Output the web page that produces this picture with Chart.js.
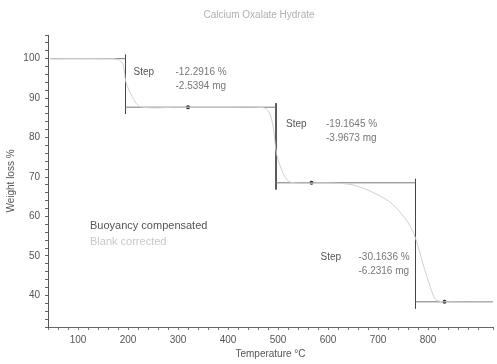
<!DOCTYPE html>
<html>
<head>
<meta charset="utf-8">
<script src="https://cdn.jsdelivr.net/npm/chart.js@4.4.1/dist/chart.umd.min.js"></script>
<style>
  html, body { margin: 0; padding: 0; background: #fff; }
  #wrap { width: 497px; height: 364px; }
</style>
</head>
<body>
<div id="wrap"><canvas id="tga"></canvas></div>
<script>
// TGA curve, temperature (C) vs weight (%)
const temps = [45, 150, 180, 190, 196, 210, 225, 300, 400, 470, 482, 490, 497, 510, 525, 600, 650, 700, 730, 760, 775, 790, 805, 815, 830, 930];
const weights = [100, 100, 99.8, 98.5, 94, 90, 87.8, 87.7, 87.7, 87.6, 86.5, 83, 76, 71, 68.7, 68.5, 68.0, 65.5, 63, 58.5, 54.5, 48, 42, 39, 38.4, 38.3];

// evaluated steps
const stepTemps = [195, 496, 775];
const stepPercent = [-12.2916, -19.1645, -30.1636];
const stepMg = [-2.5394, -3.9673, -6.2316];
const dotTemps = [320, 567, 833];

const xLabels = [100, 200, 300, 400, 500, 600, 700, 800];
const yLabels = [40, 50, 60, 70, 80, 90, 100];

// plateau levels from the step sizes
const levels = [100];
stepPercent.forEach(p => levels.push(+(levels[levels.length - 1] + p).toFixed(4)));

// baselines (grey) and step markers (dark)
const basePts = [];
const xStart = 45, xEnd = 930;
levels.forEach((lv, i) => {
  const a = i === 0 ? xStart : stepTemps[i - 1];
  const b = i < stepTemps.length ? stepTemps[i] : xEnd;
  basePts.push({x: a, y: lv}, {x: b, y: lv}, {x: NaN, y: NaN});
});
const stepPts = [];
stepTemps.forEach((t, i) => {
  stepPts.push({x: t, y: levels[i] + 1}, {x: t, y: levels[i + 1] - 1.7}, {x: NaN, y: NaN});
});
const dots = dotTemps.map((t, i) => ({x: t, y: levels[i + 1]}));

const FONT = "'Liberation Sans', Arial, sans-serif";

const textPlugin = {
  id: 'texts',
  afterDraw(chart) {
    const {ctx, scales: {x, y}, chartArea} = chart;
    ctx.save();
    ctx.textBaseline = 'middle';
    // title
    ctx.font = '10px ' + FONT;
    ctx.fillStyle = '#b0b0b0';
    ctx.textAlign = 'center';
    ctx.fillText('Calcium Oxalate Hydrate', 259, 15);
    ctx.textAlign = 'left';
    // step annotations
    const offs = [[8, 14, 42], [10, 17, 40], [-95, 74, 38]];
    stepTemps.forEach((t, i) => {
      const px = x.getPixelForValue(t) + offs[i][0];
      const py = y.getPixelForValue(levels[i]) + offs[i][1];
      ctx.fillStyle = '#555';
      ctx.font = '10px ' + FONT;
      ctx.fillText('Step', px, py);
      ctx.fillStyle = '#777';
      ctx.fillText(stepPercent[i].toFixed(4) + ' %', px + offs[i][2], py);
      ctx.fillText(stepMg[i].toFixed(4) + ' mg', px + offs[i][2], py + 14);
    });
    ctx.font = '11px ' + FONT;
    ctx.fillStyle = '#555';
    ctx.fillText('Buoyancy compensated', chartArea.left + 42, 226);
    ctx.fillStyle = '#c8c8c8';
    ctx.fillText('Blank corrected', chartArea.left + 42, 242);
    ctx.restore();
  }
};

new Chart(document.getElementById('tga'), {
  type: 'line',
  data: {
    datasets: [
      {
        label: 'TGA',
        data: temps.map((t, i) => ({x: t, y: weights[i]})),
        borderColor: '#cfcfcf',
        borderWidth: 1,
        pointRadius: 0,
        tension: 0.3
      },
      {
        label: 'Baselines',
        data: basePts,
        borderColor: '#777',
        borderWidth: 1,
        pointRadius: 0,
        spanGaps: false
      },
      {
        label: 'Steps',
        data: stepPts,
        borderColor: '#444',
        borderWidth: 1,
        pointRadius: 0,
        spanGaps: false
      },
      {
        label: 'Marks',
        data: dots,
        showLine: false,
        pointRadius: 2,
        pointBackgroundColor: '#222',
        pointBorderWidth: 0
      }
    ]
  },
  plugins: [textPlugin],
  options: {
    responsive: true,
    maintainAspectRatio: false,
    animation: false,
    layout: { padding: { top: 35, right: 2, left: 0, bottom: 0 } },
    plugins: {
      legend: { display: false },
      tooltip: { enabled: false }
    },
    scales: {
      x: {
        type: 'linear',
        min: 40,
        max: 930,
        afterFit: s => { s.height = 37; },
        border: { color: '#666' },
        grid: { drawOnChartArea: false, tickLength: 3, color: '#777' },
        ticks: {
          stepSize: 20,
          autoSkip: false,
          maxRotation: 0,
          padding: 4,
          color: '#555',
          font: { family: FONT, size: 10 },
          callback: v => xLabels.includes(v) ? v : ''
        },
        title: {
          display: true,
          text: 'Temperature °C',
          color: '#555',
          font: { family: FONT, size: 10 },
          padding: { top: 0, bottom: 4 }
        }
      },
      y: {
        min: 32,
        max: 106,
        afterFit: s => { s.width = 48; },
        border: { color: '#555' },
        grid: { drawOnChartArea: false, tickLength: 3, color: '#666' },
        ticks: {
          stepSize: 2,
          autoSkip: false,
          padding: 5,
          color: '#555',
          font: { family: FONT, size: 10 },
          callback: v => yLabels.includes(v) ? v : ''
        },
        title: {
          display: true,
          text: 'Weight loss %',
          color: '#555',
          font: { family: FONT, size: 10 },
          padding: { top: 5, bottom: 0 }
        }
      }
    }
  }
});
</script>
</body>
</html>
